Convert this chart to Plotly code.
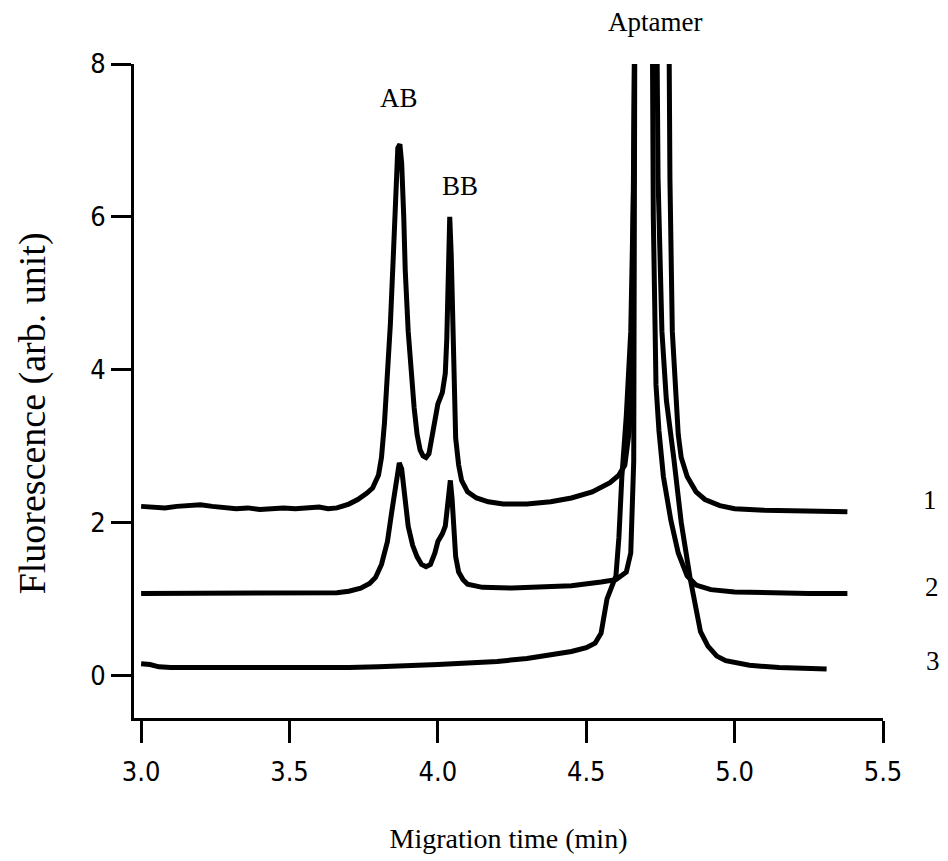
import plotly.graph_objects as go

# Trace 1 (top)
t1_x = [3.00, 3.04, 3.08, 3.12, 3.16, 3.20, 3.24, 3.28, 3.32, 3.36, 3.40, 3.44, 3.48, 3.52, 3.56, 3.60, 3.63, 3.66,
        3.70, 3.73, 3.76, 3.78, 3.80, 3.81, 3.82, 3.83, 3.84, 3.85, 3.86, 3.865, 3.872, 3.878, 3.885, 3.89, 3.90,
        3.91, 3.92, 3.93, 3.94, 3.95, 3.96, 3.97, 3.98, 3.99, 4.00, 4.015, 4.025, 4.03, 4.035, 4.04, 4.045, 4.05,
        4.055, 4.06, 4.07, 4.08, 4.10, 4.13, 4.17, 4.22, 4.30, 4.38, 4.45, 4.52, 4.58, 4.61, 4.63, 4.645, 4.655,
        4.66, 4.664, 4.778, 4.782, 4.79, 4.80, 4.81, 4.82, 4.84, 4.87, 4.90, 4.95, 5.00, 5.10, 5.20, 5.30, 5.38]
t1_y = [2.21, 2.20, 2.19, 2.21, 2.22, 2.23, 2.21, 2.19, 2.18, 2.19, 2.17, 2.18, 2.19, 2.18, 2.19, 2.20, 2.18, 2.19,
        2.24, 2.30, 2.38, 2.45, 2.62, 2.85, 3.3, 3.9, 4.6, 5.5, 6.5, 6.9, 6.95, 6.7, 6.0, 5.3, 4.5,
        3.9, 3.5, 3.15, 2.95, 2.87, 2.85, 2.9, 3.1, 3.35, 3.55, 3.7, 3.95, 4.4, 5.2, 6.0, 5.5, 4.4,
        3.6, 3.1, 2.75, 2.55, 2.40, 2.32, 2.27, 2.24, 2.24, 2.27, 2.32, 2.40, 2.52, 2.62, 2.75, 3.2, 4.5,
        6.5, 9.0, 9.0, 6.5, 4.5, 3.7, 3.15, 2.85, 2.6, 2.40, 2.30, 2.22, 2.18, 2.16, 2.15, 2.14, 2.14]

# Trace 2 (middle)
t2_x = [3.00, 3.10, 3.20, 3.30, 3.40, 3.50, 3.60, 3.66, 3.70, 3.74, 3.77, 3.79, 3.81, 3.83, 3.845, 3.86, 3.87,
        3.878, 3.885, 3.89, 3.90, 3.915, 3.93, 3.945, 3.96, 3.975, 3.99, 4.00, 4.015, 4.025, 4.032, 4.038, 4.042,
        4.048, 4.053, 4.06, 4.07, 4.085, 4.10, 4.15, 4.25, 4.35, 4.45, 4.55, 4.60, 4.635, 4.65, 4.66, 4.664,
        4.722, 4.726, 4.735, 4.745, 4.76, 4.785, 4.81, 4.84, 4.87, 4.92, 5.00, 5.10, 5.25, 5.38]
t2_y = [1.07, 1.07, 1.08, 1.07, 1.07, 1.07, 1.07, 1.08, 1.10, 1.14, 1.20, 1.28, 1.45, 1.75, 2.15, 2.6, 2.78,
        2.7, 2.45, 2.2, 1.95, 1.7, 1.55, 1.45, 1.42, 1.45, 1.6, 1.75, 1.85, 1.95, 2.2, 2.5, 2.55,
        2.3, 1.9, 1.55, 1.35, 1.25, 1.19, 1.15, 1.14, 1.15, 1.17, 1.22, 1.25, 1.35, 1.6, 2.8, 9.0,
        9.0, 6.0, 3.8, 3.2, 2.6, 2.03, 1.6, 1.3, 1.18, 1.12, 1.09, 1.08, 1.07, 1.07]

# Trace 3 (bottom)
t3_x = [3.00, 3.03, 3.06, 3.10, 3.20, 3.30, 3.40, 3.50, 3.60, 3.70, 3.80, 3.90, 4.00, 4.10, 4.20, 4.30, 4.40,
        4.45, 4.50, 4.53, 4.55, 4.56, 4.57, 4.585, 4.60, 4.61, 4.62, 4.635, 4.65, 4.66, 4.664,
        4.737, 4.742, 4.755, 4.77, 4.795, 4.82, 4.85, 4.87, 4.885, 4.91, 4.94, 4.97, 5.05, 5.15, 5.25, 5.31]
t3_y = [0.15, 0.14, 0.11, 0.10, 0.10, 0.10, 0.09, 0.09, 0.10, 0.10, 0.11, 0.12, 0.14, 0.16, 0.18, 0.22, 0.27,
        0.31, 0.36, 0.42, 0.55, 0.75, 1.0, 1.15, 1.3, 1.8, 2.6, 3.4, 4.5, 6.5, 9.0,
        9.0, 6.5, 4.5, 3.6, 2.84, 2.0, 1.27, 0.85, 0.57, 0.38, 0.25, 0.19, 0.13, 0.10, 0.09, 0.08]

peak_labels = ["AB", "BB", "Aptamer"]
peak_label_x = [3.87, 4.075, 4.73]
peak_label_y = [7.55, 6.40, 8.55]

trace_labels = ["1", "2", "3"]
trace_label_x = [5.659, 5.665, 5.669]
trace_label_y = [2.29, 1.15, 0.19]

x_ticks = [3.0, 3.5, 4.0, 4.5, 5.0, 5.5]
y_ticks = [0, 2, 4, 6, 8]

X_RANGE = [2.976, 5.5]
Y_RANGE = [-0.56, 8]

serif = "Liberation Serif, Times New Roman, serif"
sans = "Liberation Sans Narrow, DejaVu Sans Condensed, Liberation Sans, Arial, sans-serif"


def to_paper(v, rng):
    return (v - rng[0]) / (rng[1] - rng[0])


fig = go.Figure()
for xs, ys in [(t1_x, t1_y), (t2_x, t2_y), (t3_x, t3_y)]:
    fig.add_trace(go.Scatter(x=xs, y=ys, mode="lines",
                             line=dict(color="black", width=5),
                             showlegend=False, hoverinfo="skip"))

for txt, xv, yv in zip(peak_labels + trace_labels, peak_label_x + trace_label_x, peak_label_y + trace_label_y):
    fig.add_annotation(x=to_paper(xv, X_RANGE), y=to_paper(yv, Y_RANGE), xref="paper", yref="paper",
                       text=txt, showarrow=False, xanchor="center", yanchor="middle",
                       font=dict(family=serif, size=27, color="black"))

# y-axis title as rotated text (sits slightly below the plot-area centre in the reference)
fig.add_annotation(x=-0.136, y=0.466, xref="paper", yref="paper", text="Fluorescence (arb. unit)",
                   textangle=-90, showarrow=False, xanchor="center", yanchor="middle",
                   font=dict(family=serif, size=38, color="black"))

fig.update_layout(
    width=948, height=861,
    margin=dict(l=134, r=65, t=64, b=136),
    paper_bgcolor="white", plot_bgcolor="white",
    xaxis=dict(range=X_RANGE, tickvals=x_ticks, ticktext=[f"{v:.1f}" for v in x_ticks],
               showgrid=False, zeroline=False, showline=True, linecolor="black", linewidth=3,
               ticks="outside", ticklen=22, tickwidth=3, tickcolor="black", ticklabelstandoff=6,
               tickfont=dict(family=sans, size=27, color="black"),
               title=dict(text="Migration time (min)", font=dict(family=serif, size=28, color="black"),
                          standoff=42)),
    yaxis=dict(range=Y_RANGE, tickvals=y_ticks,
               showgrid=False, zeroline=False, showline=True, linecolor="black", linewidth=3,
               ticks="outside", ticklen=20, tickwidth=3, tickcolor="black",
               tickfont=dict(family=sans, size=27, color="black")),
)

fig.write_html("out.html")
